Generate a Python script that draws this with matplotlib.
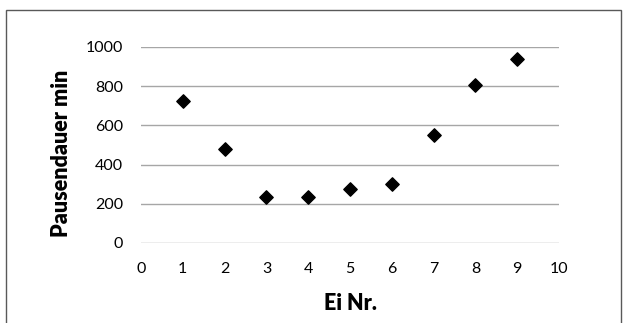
import matplotlib.pyplot as plt
from matplotlib.patches import Rectangle

# data
ei_nr = [1, 2, 3, 4, 5, 6, 7, 8, 9]
pausendauer = [722, 479, 237, 237, 278, 302, 549, 807, 940]

x_ticks = [0, 1, 2, 3, 4, 5, 6, 7, 8, 9, 10]
y_ticks = [0, 200, 400, 600, 800, 1000]

plt.rcParams['font.family'] = ['Lato', 'DejaVu Sans']

W, H = 624, 323
fig = plt.figure(figsize=(W / 100, H / 100), dpi=100)

# plot area in pixels: x 141..559, y 47..243
ax = fig.add_axes([141 / W, 1 - 243 / H, (559 - 141) / W, (243 - 47) / H])
ax.scatter(ei_nr, pausendauer, marker='D', s=6.8 ** 2, color='black', zorder=3,
           clip_on=False)

ax.set_xlim(0, 10)
ax.set_ylim(0, 1000)
ax.set_xticks(x_ticks)
ax.set_yticks(y_ticks)
ax.tick_params(length=0, labelsize=11.5, colors='black')
ax.tick_params(axis='x', pad=14)
ax.tick_params(axis='y', pad=13)

for s in ax.spines.values():
    s.set_visible(False)
ax.yaxis.grid(True, color='#a6a6a6', linewidth=1)
ax.set_axisbelow(True)

fig.text(62 / W, 1 - 153 / H, 'Pausendauer min', rotation=90, ha='center',
         va='center', fontsize=15.5, fontweight='heavy')
fig.text(350 / W, 1 - 303 / H, 'Ei Nr.', ha='center', va='center',
         fontsize=15.5, fontweight='heavy')

# chart frame (bottom edge is cut off in the original)
fig.patches.append(Rectangle((6 / W, -0.1), (621 - 6) / W, 1.1 - 10 / H,
                             transform=fig.transFigure, fill=False,
                             edgecolor='#595959', linewidth=1))

fig.savefig('out.png', dpi=100, facecolor='white')
